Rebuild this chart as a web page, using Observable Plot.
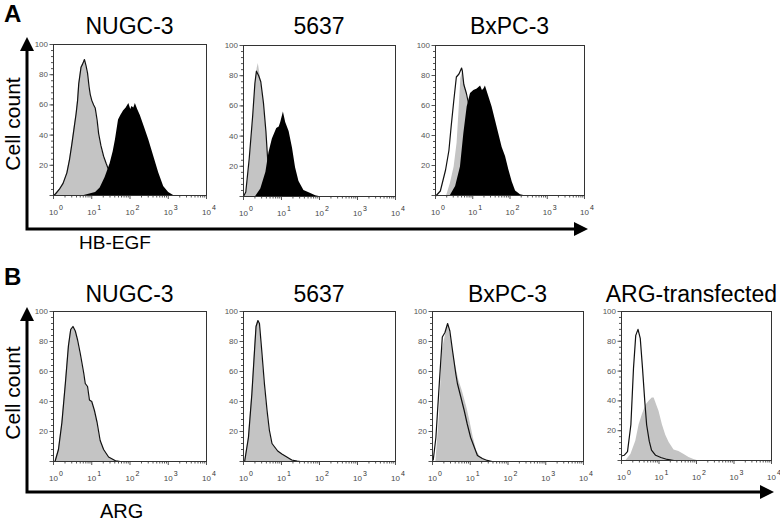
<!DOCTYPE html>
<html><head><meta charset="utf-8">
<script src="https://cdn.jsdelivr.net/npm/d3@7"></script>
<script src="https://cdn.jsdelivr.net/npm/@observablehq/plot@0.6"></script>
<style>
html,body{margin:0;padding:0;background:#fff;}
#chart{position:relative;width:780px;height:522px;overflow:hidden;font-family:"Liberation Sans",Arial,sans-serif;background:#fff;}
.panel{position:absolute;}
#overlay{position:absolute;left:0;top:0;}
</style></head><body><div id="chart"></div>
<script>
// ---------- tick labels ----------
const yTickValues = [20, 40, 60, 80, 100];
const xTickExponents = [0, 1, 2, 3, 4];
const xTickBase = "10";

// ---------- titles / labels ----------
const panelLetters = ["A", "B"];
const rowAxisLabels = ["HB-EGF", "ARG"];
const yAxisLabel = "Cell count";
const titlesA = ["NUGC-3", "5637", "BxPC-3"];
const titlesB = ["NUGC-3", "5637", "BxPC-3", "ARG-transfected"];

// ---------- data (x = log10 fluorescence, y = cell count) ----------
// Row A: HB-EGF
const aNugcCtrlX = [0.00,0.05,0.15,0.25,0.35,0.42,0.48,0.54,0.59,0.63,0.66,0.72,0.76,0.81,0.85,0.89,0.93,0.96,1.00,1.05,1.09,1.14,1.18,1.24,1.31,1.38,1.44,1.52,1.60,1.70,1.80];
const aNugcCtrlY = [0,1,4,8,15,24,34,45,54,63,74,85,87,90,86,81,72,67,63,60,58,50,41,33,26,21,17,12,8,4,0];
const aNugcStainX = [0.80,0.95,1.10,1.22,1.35,1.48,1.56,1.62,1.70,1.76,1.83,1.90,1.97,2.02,2.05,2.10,2.14,2.20,2.27,2.38,2.49,2.62,2.75,2.88,3.01,3.14];
const aNugcStainY = [0,1,2,5,12,21,29,37,50,53,56,58,61,57,59,58,61,57,53,45,37,26,15,6,2,0];

const a5637CtrlX = [0.00,0.06,0.15,0.24,0.30,0.34,0.40,0.455,0.525,0.59,0.63,0.67,0.72,0.76,0.85];
const a5637CtrlY = [0,3,25,53,75,83,80,76,62,43,27,14,5,1,0];
const a5637GrayX = [0.02,0.08,0.16,0.25,0.31,0.36,0.39,0.45,0.52,0.59,0.64,0.68,0.73,0.78,0.85];
const a5637GrayY = [0,3,22,50,74,85,88,78,64,45,28,15,6,1,0];
const a5637StainX = [0.32,0.455,0.59,0.67,0.76,0.875,0.94,0.98,1.05,1.11,1.20,1.29,1.37,1.46,1.59,1.77,1.90,1.99];
const a5637StainY = [0,5,16,29,38,45,46,49,56,49,43,32,19,10,4,2,0.5,0];

const aBxCtrlX = [0.02,0.13,0.27,0.36,0.42,0.49,0.56,0.63,0.70,0.72,0.76,0.83,0.89,0.95,1.05,1.15];
const aBxCtrlY = [0,3,17,30,46,63,79,81,85,83,74,68,61,45,20,0];
const aBxGrayX = [0.30,0.40,0.50,0.58,0.64,0.68,0.72,0.78,0.85,0.92,1.00,1.10,1.20];
const aBxGrayY = [0,8,19,35,60,78,82,74,66,61,40,15,0];
const aBxStainX = [0.40,0.54,0.67,0.76,0.85,0.94,1.03,1.12,1.21,1.26,1.30,1.34,1.43,1.52,1.61,1.70,1.79,1.88,1.97,2.06,2.15,2.28,2.37];
const aBxStainY = [0,6,19,41,59,68,70,71,73,70,71,73,66,59,50,41,32,26,17,9,3,0.5,0];

// Row B: ARG
const bNugcCtrlX = [0.04,0.13,0.22,0.31,0.39,0.45,0.51,0.57,0.63,0.70,0.79,0.83,0.89,0.94,1.00,1.07,1.14,1.22,1.31,1.44,1.62,1.75];
const bNugcCtrlY = [0,8,26,52,77,88,90,87,81,72,59,52,50,41,40,34,26,14,8,3,0.5,0];

const b5637CtrlX = [0.03,0.13,0.22,0.29,0.33,0.38,0.42,0.48,0.55,0.62,0.68,0.75,0.81,0.90,1.01,1.14,1.27,1.41,1.50];
const b5637CtrlY = [0,16,45,74,90,94,92,74,52,34,21,12,10,7,5,3,1,0.2,0];

const bBxCtrlX = [0.02,0.09,0.18,0.26,0.33,0.40,0.46,0.53,0.62,0.66,0.75,0.84,0.92,1.01,1.10,1.19,1.32,1.45,1.58];
const bBxCtrlY = [1,16,52,83,86,92,87,74,58,52,43,34,25,16,10,4,2,0.7,0];
const bBxGrayX = [0.09,0.18,0.26,0.35,0.40,0.46,0.53,0.62,0.70,0.79,0.91,0.99,1.08,1.17,1.27,1.45];
const bBxGrayY = [0,30,74,85,91,86,76,63,54,47,36,27,16,7,3,0];

const bArgCtrlX = [0.00,0.07,0.16,0.25,0.32,0.38,0.44,0.50,0.56,0.62,0.67,0.74,0.80,0.91,1.05,1.22,1.40];
const bArgCtrlY = [3,3.5,6,24,62,84,88,82,62,40,24,13,7,3.5,2,0.7,0];
const bArgStainX = [0.12,0.25,0.38,0.47,0.56,0.65,0.74,0.82,0.87,0.94,1.00,1.09,1.18,1.27,1.40,1.53,1.67,1.80,1.93,2.02];
const bArgStainY = [0,4,13,24,31,37,40,42,42,37,33,24,17,12,7,6,4,2,0.7,0];

// ---------- build ----------
const GRAY = "#c4c4c4";
const TICK = "#555";
const rows = (xs, ys) => xs.map((x, i) => ({x, y: ys[i]}));
const minorY = d3.range(0, 101, 4);
const minorX = [];
for (let n = 0; n < 4; n++) for (let k = 2; k <= 9; k++) minorX.push(n + Math.log10(k));

const chart = document.getElementById("chart");
const ML = 30, MR = 6, MT = 5, MB = 26;

function panel(f, s) {
  const marks = [];
  if (s.gray) marks.push(Plot.areaY(rows(s.gray[0], s.gray[1]), {x: "x", y: "y", fill: GRAY}));
  if (s.ctrl) marks.push(Plot.lineY(rows(s.ctrl[0], s.ctrl[1]), {x: "x", y: "y", stroke: "#111", strokeWidth: 1.2}));
  if (s.stain) marks.push(Plot.areaY(rows(s.stain[0], s.stain[1]), {x: "x", y: "y", fill: "#000"}));
  marks.push(
    Plot.axisY(minorY, {tickSize: 2, tickFormat: () => "", label: null}),
    Plot.axisY([0, ...yTickValues], {tickSize: 3.5, tickPadding: 2, tickFormat: d => d === 0 ? "" : String(d), label: null}),
    Plot.axisX(minorX, {tickSize: 2.5, tickFormat: () => "", label: null}),
    Plot.axisX(xTickExponents, {tickSize: 4, tickFormat: () => "", label: null}),
    Plot.text(xTickExponents, {x: d => d, y: 0, text: () => xTickBase, dy: 17, fontSize: 8, fill: "#4a4a4a"}),
    Plot.text(xTickExponents, {x: d => d, y: 0, text: d => String(d), dx: 7.5, dy: 12.5, fontSize: 7, fill: "#333"}),
    Plot.frame({stroke: "#333", strokeWidth: 1})
  );
  const svg = Plot.plot({
    width: f.w + ML + MR, height: f.h + MT + MB,
    marginLeft: ML, marginRight: MR, marginTop: MT, marginBottom: MB,
    x: {domain: [0, 4]},
    y: {domain: [0, 100]},
    style: {fontFamily: "'Liberation Sans', Arial, sans-serif", fontSize: "8px", color: TICK, background: "transparent", overflow: "visible"},
    marks
  });
  const div = document.createElement("div");
  div.className = "panel";
  div.style.left = (f.left - ML) + "px";
  div.style.top = (f.top - MT) + "px";
  div.appendChild(svg);
  chart.appendChild(div);
}

const framesA = [
  {left: 53, top: 44, w: 153, h: 151},
  {left: 243, top: 45, w: 152, h: 151},
  {left: 435, top: 45, w: 149, h: 150}
];
const framesB = [
  {left: 53, top: 311, w: 153, h: 150},
  {left: 243, top: 311, w: 152, h: 150},
  {left: 432, top: 311, w: 151, h: 150},
  {left: 621, top: 311, w: 150, h: 149}
];

panel(framesA[0], {gray: [aNugcCtrlX, aNugcCtrlY], ctrl: [aNugcCtrlX, aNugcCtrlY], stain: [aNugcStainX, aNugcStainY]});
panel(framesA[1], {gray: [a5637GrayX, a5637GrayY], ctrl: [a5637CtrlX, a5637CtrlY], stain: [a5637StainX, a5637StainY]});
panel(framesA[2], {gray: [aBxGrayX, aBxGrayY], ctrl: [aBxCtrlX, aBxCtrlY], stain: [aBxStainX, aBxStainY]});
panel(framesB[0], {gray: [bNugcCtrlX, bNugcCtrlY], ctrl: [bNugcCtrlX, bNugcCtrlY]});
panel(framesB[1], {gray: [b5637CtrlX, b5637CtrlY], ctrl: [b5637CtrlX, b5637CtrlY]});
panel(framesB[2], {gray: [bBxGrayX, bBxGrayY], ctrl: [bBxCtrlX, bBxCtrlY]});
panel(framesB[3], {gray: [bArgStainX, bArgStainY], ctrl: [bArgCtrlX, bArgCtrlY]});

// ---------- overlay: titles, arrows, labels ----------
const ov = d3.select(chart).append("svg").attr("id", "overlay").attr("width", 780).attr("height", 522)
  .style("font-family", "'Liberation Sans', Arial, sans-serif");

titlesA.forEach((t, i) => ov.append("text").attr("x", framesA[i].left + framesA[i].w / 2).attr("y", 34)
  .attr("text-anchor", "middle").attr("font-size", 23).text(t));
titlesB.forEach((t, i) => {
  const f = framesB[i];
  const last = i === titlesB.length - 1;
  ov.append("text").attr("x", last ? 777 : f.left + f.w / 2).attr("y", 302)
    .attr("text-anchor", last ? "end" : "middle").attr("font-size", 23).text(t);
});

ov.append("text").attr("x", 4).attr("y", 22).attr("font-size", 24).attr("font-weight", "bold").text(panelLetters[0]);
ov.append("text").attr("x", 4).attr("y", 285).attr("font-size", 24).attr("font-weight", "bold").text(panelLetters[1]);

[124, 393].forEach(cy => ov.append("text")
  .attr("transform", `translate(20,${cy}) rotate(-90)`).attr("text-anchor", "middle")
  .attr("font-size", 21).text(yAxisLabel));

ov.append("text").attr("x", 79).attr("y", 249).attr("font-size", 19).text(rowAxisLabels[0]);
ov.append("text").attr("x", 100).attr("y", 518).attr("font-size", 20).text(rowAxisLabels[1]);

function arrows(topTip, yBase, xTip) {
  ov.append("path").attr("d", `M27,${topTip + 12}V${yBase}H${xTip - 12}`)
    .attr("fill", "none").attr("stroke", "#000").attr("stroke-width", 3);
  ov.append("path").attr("d", `M27,${topTip}L34,${topTip + 14}L20,${topTip + 14}Z`).attr("fill", "#000");
  ov.append("path").attr("d", `M${xTip},${yBase}L${xTip - 14},${yBase - 7}L${xTip - 14},${yBase + 7}Z`).attr("fill", "#000");
}
arrows(37, 229, 588);
arrows(307, 492, 774);
</script></body></html>
